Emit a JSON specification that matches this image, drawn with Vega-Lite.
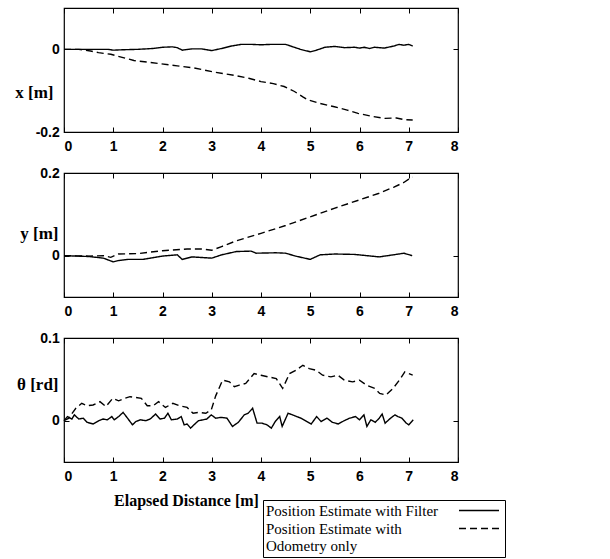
{
  "$schema": "https://vega.github.io/schema/vega-lite/v6.json",
  "background": "white",
  "padding": {"left": 14, "top": 6, "right": 10, "bottom": 2},
  "spacing": 41,
  "bounds": "flush",
  "config": {
    "view": {"stroke": "black", "strokeWidth": 1.2},
    "axis": {
      "grid": false, "domain": false, "ticks": true, "tickSize": -5, "tickColor": "black", "tickWidth": 1,
      "labelFont": "Liberation Sans", "labelFontWeight": "bold", "labelFontSize": 14, "labelColor": "black",
      "titleFont": "Liberation Serif", "titleFontWeight": "bold", "titleFontSize": 17, "titleColor": "black"
    },
    "line": {"color": "black", "strokeWidth": 1.4}
  },
  "datasets": {
    "px": [
      {"d":0,"v":0,"s":"Filter"},{"d":0.5,"v":0,"s":"Filter"},{"d":0.9,"v":0,"s":"Filter"},{"d":1.0,"v":-0.002,"s":"Filter"},{"d":1.2,"v":-0.001,"s":"Filter"},{"d":1.5,"v":0,"s":"Filter"},{"d":1.8,"v":0.002,"s":"Filter"},{"d":2.0,"v":0.005,"s":"Filter"},{"d":2.2,"v":0.006,"s":"Filter"},{"d":2.3,"v":0.004,"s":"Filter"},{"d":2.4,"v":-0.002,"s":"Filter"},{"d":2.6,"v":0.001,"s":"Filter"},{"d":2.8,"v":0.001,"s":"Filter"},{"d":3.0,"v":-0.003,"s":"Filter"},{"d":3.2,"v":0.002,"s":"Filter"},{"d":3.4,"v":0.008,"s":"Filter"},{"d":3.6,"v":0.012,"s":"Filter"},{"d":3.8,"v":0.012,"s":"Filter"},{"d":4.0,"v":0.011,"s":"Filter"},{"d":4.2,"v":0.012,"s":"Filter"},{"d":4.5,"v":0.012,"s":"Filter"},{"d":4.6,"v":0.008,"s":"Filter"},{"d":4.8,"v":0.0,"s":"Filter"},{"d":5.0,"v":-0.006,"s":"Filter"},{"d":5.1,"v":-0.003,"s":"Filter"},{"d":5.3,"v":0.005,"s":"Filter"},{"d":5.5,"v":0.007,"s":"Filter"},{"d":5.7,"v":0.004,"s":"Filter"},{"d":5.9,"v":0.005,"s":"Filter"},{"d":6.0,"v":0.003,"s":"Filter"},{"d":6.1,"v":0.005,"s":"Filter"},{"d":6.2,"v":0.002,"s":"Filter"},{"d":6.3,"v":0.005,"s":"Filter"},{"d":6.5,"v":0.003,"s":"Filter"},{"d":6.7,"v":0.008,"s":"Filter"},{"d":6.8,"v":0.012,"s":"Filter"},{"d":6.9,"v":0.010,"s":"Filter"},{"d":7.0,"v":0.012,"s":"Filter"},{"d":7.08,"v":0.008,"s":"Filter"},
      {"d":0,"v":0,"s":"Odometry"},{"d":0.3,"v":0,"s":"Odometry"},{"d":0.54,"v":-0.004,"s":"Odometry"},{"d":0.7,"v":-0.008,"s":"Odometry"},{"d":0.95,"v":-0.012,"s":"Odometry"},{"d":1.2,"v":-0.02,"s":"Odometry"},{"d":1.42,"v":-0.027,"s":"Odometry"},{"d":1.7,"v":-0.031,"s":"Odometry"},{"d":1.97,"v":-0.035,"s":"Odometry"},{"d":2.3,"v":-0.04,"s":"Odometry"},{"d":2.64,"v":-0.045,"s":"Odometry"},{"d":3.05,"v":-0.055,"s":"Odometry"},{"d":3.46,"v":-0.063,"s":"Odometry"},{"d":3.75,"v":-0.07,"s":"Odometry"},{"d":4.0,"v":-0.078,"s":"Odometry"},{"d":4.25,"v":-0.083,"s":"Odometry"},{"d":4.47,"v":-0.09,"s":"Odometry"},{"d":4.68,"v":-0.102,"s":"Odometry"},{"d":4.85,"v":-0.115,"s":"Odometry"},{"d":4.95,"v":-0.122,"s":"Odometry"},{"d":5.2,"v":-0.131,"s":"Odometry"},{"d":5.49,"v":-0.139,"s":"Odometry"},{"d":5.75,"v":-0.147,"s":"Odometry"},{"d":5.97,"v":-0.155,"s":"Odometry"},{"d":6.25,"v":-0.162,"s":"Odometry"},{"d":6.51,"v":-0.167,"s":"Odometry"},{"d":6.75,"v":-0.166,"s":"Odometry"},{"d":6.9,"v":-0.17,"s":"Odometry"},{"d":7.08,"v":-0.171,"s":"Odometry"}
    ],
    "py": [
      {"d":0,"v":0,"s":"Filter"},{"d":0.5,"v":-0.002,"s":"Filter"},{"d":0.8,"v":-0.006,"s":"Filter"},{"d":1.0,"v":-0.015,"s":"Filter"},{"d":1.1,"v":-0.012,"s":"Filter"},{"d":1.3,"v":-0.009,"s":"Filter"},{"d":1.6,"v":-0.009,"s":"Filter"},{"d":2.0,"v":-0.001,"s":"Filter"},{"d":2.3,"v":0.002,"s":"Filter"},{"d":2.4,"v":-0.009,"s":"Filter"},{"d":2.6,"v":-0.003,"s":"Filter"},{"d":3.0,"v":-0.006,"s":"Filter"},{"d":3.2,"v":0.002,"s":"Filter"},{"d":3.5,"v":0.010,"s":"Filter"},{"d":3.8,"v":0.011,"s":"Filter"},{"d":3.9,"v":0.006,"s":"Filter"},{"d":4.3,"v":0.007,"s":"Filter"},{"d":4.5,"v":0.006,"s":"Filter"},{"d":4.7,"v":-0.001,"s":"Filter"},{"d":5.0,"v":-0.009,"s":"Filter"},{"d":5.2,"v":0.002,"s":"Filter"},{"d":5.5,"v":0.004,"s":"Filter"},{"d":5.9,"v":0.003,"s":"Filter"},{"d":6.4,"v":-0.003,"s":"Filter"},{"d":6.8,"v":0.004,"s":"Filter"},{"d":6.9,"v":0.006,"s":"Filter"},{"d":7.07,"v":0,"s":"Filter"},
      {"d":0,"v":0,"s":"Odometry"},{"d":0.5,"v":-0.001,"s":"Odometry"},{"d":0.8,"v":0.0,"s":"Odometry"},{"d":0.95,"v":-0.004,"s":"Odometry"},{"d":1.1,"v":0.004,"s":"Odometry"},{"d":1.5,"v":0.005,"s":"Odometry"},{"d":2.0,"v":0.012,"s":"Odometry"},{"d":2.5,"v":0.016,"s":"Odometry"},{"d":2.8,"v":0.016,"s":"Odometry"},{"d":3.0,"v":0.013,"s":"Odometry"},{"d":3.2,"v":0.022,"s":"Odometry"},{"d":3.5,"v":0.036,"s":"Odometry"},{"d":4.0,"v":0.054,"s":"Odometry"},{"d":4.5,"v":0.073,"s":"Odometry"},{"d":5.0,"v":0.094,"s":"Odometry"},{"d":5.5,"v":0.115,"s":"Odometry"},{"d":6.0,"v":0.135,"s":"Odometry"},{"d":6.4,"v":0.151,"s":"Odometry"},{"d":6.7,"v":0.166,"s":"Odometry"},{"d":6.9,"v":0.177,"s":"Odometry"},{"d":7.0,"v":0.185,"s":"Odometry"},{"d":7.08,"v":0.19,"s":"Odometry"}
    ],
    "pt": [
      {"d":0,"v":0,"s":"Filter"},{"d":0.07,"v":0.005,"s":"Filter"},{"d":0.16,"v":0.002,"s":"Filter"},{"d":0.21,"v":0.007,"s":"Filter"},{"d":0.3,"v":0.002,"s":"Filter"},{"d":0.39,"v":0.003,"s":"Filter"},{"d":0.47,"v":-0.002,"s":"Filter"},{"d":0.59,"v":-0.004,"s":"Filter"},{"d":0.71,"v":0,"s":"Filter"},{"d":0.79,"v":0.002,"s":"Filter"},{"d":0.88,"v":0.001,"s":"Filter"},{"d":0.97,"v":0.005,"s":"Filter"},{"d":1.02,"v":0.001,"s":"Filter"},{"d":1.11,"v":0.005,"s":"Filter"},{"d":1.2,"v":0.01,"s":"Filter"},{"d":1.29,"v":0.003,"s":"Filter"},{"d":1.39,"v":-0.005,"s":"Filter"},{"d":1.46,"v":-0.001,"s":"Filter"},{"d":1.55,"v":0.001,"s":"Filter"},{"d":1.66,"v":0,"s":"Filter"},{"d":1.75,"v":0.002,"s":"Filter"},{"d":1.86,"v":0.008,"s":"Filter"},{"d":1.95,"v":0.002,"s":"Filter"},{"d":2.04,"v":0.003,"s":"Filter"},{"d":2.11,"v":0.009,"s":"Filter"},{"d":2.18,"v":0.001,"s":"Filter"},{"d":2.3,"v":0.002,"s":"Filter"},{"d":2.38,"v":0.005,"s":"Filter"},{"d":2.44,"v":-0.005,"s":"Filter"},{"d":2.5,"v":-0.004,"s":"Filter"},{"d":2.57,"v":-0.009,"s":"Filter"},{"d":2.64,"v":-0.005,"s":"Filter"},{"d":2.73,"v":0,"s":"Filter"},{"d":2.82,"v":0.001,"s":"Filter"},{"d":2.9,"v":0.002,"s":"Filter"},{"d":2.99,"v":0.007,"s":"Filter"},{"d":3.08,"v":0.003,"s":"Filter"},{"d":3.19,"v":0.004,"s":"Filter"},{"d":3.31,"v":0.003,"s":"Filter"},{"d":3.42,"v":-0.007,"s":"Filter"},{"d":3.54,"v":-0.002,"s":"Filter"},{"d":3.66,"v":0.007,"s":"Filter"},{"d":3.74,"v":0.009,"s":"Filter"},{"d":3.83,"v":0.015,"s":"Filter"},{"d":3.92,"v":-0.003,"s":"Filter"},{"d":4.02,"v":-0.003,"s":"Filter"},{"d":4.12,"v":-0.005,"s":"Filter"},{"d":4.21,"v":-0.009,"s":"Filter"},{"d":4.29,"v":-0.001,"s":"Filter"},{"d":4.38,"v":0.005,"s":"Filter"},{"d":4.43,"v":-0.007,"s":"Filter"},{"d":4.49,"v":0.001,"s":"Filter"},{"d":4.55,"v":0.009,"s":"Filter"},{"d":4.64,"v":0.007,"s":"Filter"},{"d":4.81,"v":0.003,"s":"Filter"},{"d":5.02,"v":-0.004,"s":"Filter"},{"d":5.13,"v":0.005,"s":"Filter"},{"d":5.22,"v":-0.001,"s":"Filter"},{"d":5.34,"v":0.003,"s":"Filter"},{"d":5.45,"v":-0.002,"s":"Filter"},{"d":5.57,"v":-0.004,"s":"Filter"},{"d":5.69,"v":0,"s":"Filter"},{"d":5.8,"v":0.003,"s":"Filter"},{"d":5.92,"v":0.005,"s":"Filter"},{"d":6.0,"v":0.001,"s":"Filter"},{"d":6.09,"v":0.007,"s":"Filter"},{"d":6.15,"v":-0.007,"s":"Filter"},{"d":6.23,"v":0.001,"s":"Filter"},{"d":6.32,"v":-0.002,"s":"Filter"},{"d":6.4,"v":0.003,"s":"Filter"},{"d":6.46,"v":0.008,"s":"Filter"},{"d":6.52,"v":-0.003,"s":"Filter"},{"d":6.63,"v":0.003,"s":"Filter"},{"d":6.72,"v":0.007,"s":"Filter"},{"d":6.78,"v":0.005,"s":"Filter"},{"d":6.86,"v":0.003,"s":"Filter"},{"d":6.95,"v":-0.003,"s":"Filter"},{"d":7.0,"v":-0.005,"s":"Filter"},{"d":7.09,"v":0.001,"s":"Filter"},
      {"d":0,"v":0,"s":"Odometry"},{"d":0.1,"v":0.003,"s":"Odometry"},{"d":0.13,"v":0.006,"s":"Odometry"},{"d":0.24,"v":0.015,"s":"Odometry"},{"d":0.36,"v":0.021,"s":"Odometry"},{"d":0.47,"v":0.018,"s":"Odometry"},{"d":0.59,"v":0.019,"s":"Odometry"},{"d":0.73,"v":0.023,"s":"Odometry"},{"d":0.85,"v":0.017,"s":"Odometry"},{"d":0.99,"v":0.027,"s":"Odometry"},{"d":1.11,"v":0.024,"s":"Odometry"},{"d":1.23,"v":0.027,"s":"Odometry"},{"d":1.34,"v":0.029,"s":"Odometry"},{"d":1.46,"v":0.028,"s":"Odometry"},{"d":1.57,"v":0.027,"s":"Odometry"},{"d":1.69,"v":0.018,"s":"Odometry"},{"d":1.81,"v":0.018,"s":"Odometry"},{"d":1.92,"v":0.023,"s":"Odometry"},{"d":2.06,"v":0.016,"s":"Odometry"},{"d":2.21,"v":0.021,"s":"Odometry"},{"d":2.35,"v":0.018,"s":"Odometry"},{"d":2.5,"v":0.016,"s":"Odometry"},{"d":2.62,"v":0.009,"s":"Odometry"},{"d":2.73,"v":0.01,"s":"Odometry"},{"d":2.88,"v":0.009,"s":"Odometry"},{"d":2.99,"v":0.013,"s":"Odometry"},{"d":3.08,"v":0.03,"s":"Odometry"},{"d":3.22,"v":0.049,"s":"Odometry"},{"d":3.36,"v":0.047,"s":"Odometry"},{"d":3.46,"v":0.041,"s":"Odometry"},{"d":3.56,"v":0.043,"s":"Odometry"},{"d":3.69,"v":0.045,"s":"Odometry"},{"d":3.86,"v":0.057,"s":"Odometry"},{"d":4.0,"v":0.055,"s":"Odometry"},{"d":4.14,"v":0.053,"s":"Odometry"},{"d":4.31,"v":0.051,"s":"Odometry"},{"d":4.44,"v":0.039,"s":"Odometry"},{"d":4.58,"v":0.057,"s":"Odometry"},{"d":4.71,"v":0.061,"s":"Odometry"},{"d":4.85,"v":0.067,"s":"Odometry"},{"d":4.98,"v":0.063,"s":"Odometry"},{"d":5.12,"v":0.061,"s":"Odometry"},{"d":5.25,"v":0.055,"s":"Odometry"},{"d":5.42,"v":0.053,"s":"Odometry"},{"d":5.56,"v":0.055,"s":"Odometry"},{"d":5.69,"v":0.049,"s":"Odometry"},{"d":5.86,"v":0.047,"s":"Odometry"},{"d":6.0,"v":0.049,"s":"Odometry"},{"d":6.14,"v":0.043,"s":"Odometry"},{"d":6.31,"v":0.039,"s":"Odometry"},{"d":6.41,"v":0.033,"s":"Odometry"},{"d":6.54,"v":0.031,"s":"Odometry"},{"d":6.68,"v":0.039,"s":"Odometry"},{"d":6.81,"v":0.049,"s":"Odometry"},{"d":6.92,"v":0.059,"s":"Odometry"},{"d":7.08,"v":0.055,"s":"Odometry"}
    ]
  },
  "vconcat": [
    {
      "width": 394, "height": 124,
      "data": {"name": "px"},
      "layer": [
        {
          "transform": [{"filter": "datum.s === 'Filter'"}],
          "mark": {"type": "line"},
          "encoding": {
            "x": {"field": "d", "type": "quantitative", "scale": {"domain": [0, 8], "nice": false, "zero": false},
                  "axis": {"orient": "bottom", "values": [0,1,2,3,4,5,6,7,8], "format": "d", "title": null, "labelPadding": 12.5}},
            "y": {"field": "v", "type": "quantitative", "scale": {"domain": [-0.2, 0.1], "nice": false, "zero": false},
                  "axis": {"orient": "left", "values": [-0.2, 0], "labelExpr": "'' + datum.value", "labelPadding": 9.7,
                           "title": "x [m]", "titleAngle": 0, "titleAlign": "right", "titleBaseline": "middle", "titleX": -11, "titleY": 84}},
            "strokeDash": {"field": "s", "type": "nominal", "scale": {"domain": ["Filter", "Odometry"], "range": [[1, 0], [7, 4]]},
                  "legend": {"orient": "none", "legendX": 199, "legendY": 492, "title": null, "direction": "vertical",
                             "symbolType": "M-5,0H5", "symbolSize": 64, "symbolStrokeWidth": 1.5, "symbolStrokeColor": "black", "symbolFillColor": "transparent",
                             "symbolOffset": 205.5, "labelOffset": -220.5, "labelFont": "Liberation Serif", "labelFontSize": 15, "labelColor": "black",
                             "labelLimit": 400, "labelLineHeight": 20,
                             "labelExpr": "datum.value === 'Filter' ? 'Position Estimate with Filter' : ['Position Estimate with', 'Odometry only']",
                             "padding": 3, "rowPadding": 2, "strokeColor": "black", "fillColor": "white",
                             "encode": {"symbols": {"update": {"strokeDash": {"signal": "datum.value === 'Odometry' ? [2, 3] : [1, 0]"}}}}}}
          }
        },
        {
          "transform": [{"filter": "datum.s === 'Odometry'"}],
          "mark": {"type": "line"},
          "encoding": {
            "x": {"field": "d", "type": "quantitative", "axis": {"orient": "top", "values": [0,1,2,3,4,5,6,7,8], "labels": false, "title": null}},
            "y": {"field": "v", "type": "quantitative", "axis": {"orient": "right", "values": [-0.2, 0], "labels": false, "title": null}},
            "strokeDash": {"field": "s", "type": "nominal"}
          }
        }
      ]
    },
    {
      "width": 394, "height": 124,
      "data": {"name": "py"},
      "layer": [
        {
          "transform": [{"filter": "datum.s === 'Filter'"}],
          "mark": {"type": "line"},
          "encoding": {
            "x": {"field": "d", "type": "quantitative", "scale": {"domain": [0, 8], "nice": false, "zero": false},
                  "axis": {"orient": "bottom", "values": [0,1,2,3,4,5,6,7,8], "format": "d", "title": null, "labelPadding": 12.5}},
            "y": {"field": "v", "type": "quantitative", "scale": {"domain": [-0.1, 0.2], "nice": false, "zero": false},
                  "axis": {"orient": "left", "values": [0, 0.2], "labelExpr": "'' + datum.value", "labelPadding": 9.7,
                           "title": "y [m]", "titleAngle": 0, "titleAlign": "right", "titleBaseline": "middle", "titleX": -6, "titleY": 60}},
            "strokeDash": {"field": "s", "type": "nominal"}
          }
        },
        {
          "transform": [{"filter": "datum.s === 'Odometry'"}],
          "mark": {"type": "line"},
          "encoding": {
            "x": {"field": "d", "type": "quantitative", "axis": {"orient": "top", "values": [0,1,2,3,4,5,6,7,8], "labels": false, "title": null}},
            "y": {"field": "v", "type": "quantitative", "axis": {"orient": "right", "values": [0, 0.2], "labels": false, "title": null}},
            "strokeDash": {"field": "s", "type": "nominal"}
          }
        }
      ]
    },
    {
      "width": 394, "height": 124,
      "data": {"name": "pt"},
      "layer": [
        {
          "transform": [{"filter": "datum.s === 'Filter'"}],
          "mark": {"type": "line"},
          "encoding": {
            "x": {"field": "d", "type": "quantitative", "scale": {"domain": [0, 8], "nice": false, "zero": false},
                  "axis": {"orient": "bottom", "values": [0,1,2,3,4,5,6,7,8], "format": "d", "labelPadding": 12.5,
                           "title": "Elapsed Distance [m]", "titleFontSize": 16, "titleX": 122, "titleAlign": "center", "titleBaseline": "middle", "titleY": 38}},
            "y": {"field": "v", "type": "quantitative", "scale": {"domain": [-0.05, 0.1], "nice": false, "zero": false},
                  "axis": {"orient": "left", "values": [0, 0.1], "labelExpr": "'' + datum.value", "labelPadding": 9.7,
                           "title": "θ [rd]", "titleAngle": 0, "titleAlign": "right", "titleBaseline": "middle", "titleX": -6, "titleY": 46}},
            "strokeDash": {"field": "s", "type": "nominal"}
          }
        },
        {
          "transform": [{"filter": "datum.s === 'Odometry'"}],
          "mark": {"type": "line"},
          "encoding": {
            "x": {"field": "d", "type": "quantitative", "axis": {"orient": "top", "values": [0,1,2,3,4,5,6,7,8], "labels": false, "title": null}},
            "y": {"field": "v", "type": "quantitative", "axis": {"orient": "right", "values": [0, 0.1], "labels": false, "title": null}},
            "strokeDash": {"field": "s", "type": "nominal"}
          }
        }
      ]
    }
  ]
}
